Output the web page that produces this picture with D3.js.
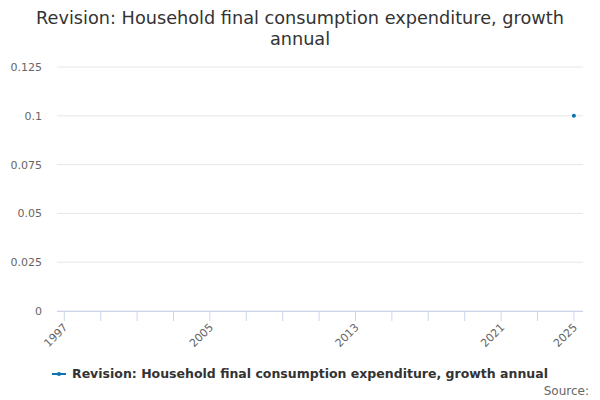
<!DOCTYPE html>
<html><head><meta charset="utf-8">
<script src="https://cdn.jsdelivr.net/npm/d3@7"></script>
<style>body{margin:0;font-family:"DejaVu Sans",sans-serif;}</style>
</head><body><div id="chart"></div>
<script>
const years = [2025];
const values = [0.1];
const yTicks = [0, 0.025, 0.05, 0.075, 0.1, 0.125];
const xLabels = [1997, 2005, 2013, 2021, 2025];
const xTicks = d3.range(1997, 2026, 2);
const title = ["Revision: Household final consumption expenditure, growth", "annual"];
const seriesName = "Revision: Household final consumption expenditure, growth annual";

const W = 600, H = 400;
const svg = d3.select("#chart").append("svg").attr("width", W).attr("height", H);
const x = d3.scaleLinear().domain([1996.6, 2025.5]).range([57, 583]);
const y = d3.scaleLinear().domain([0, 0.125]).range([311, 67]);

svg.selectAll("text.title").data(title).enter().append("text")
  .attr("x", W / 2).attr("y", (d, i) => 24 + i * 21)
  .attr("text-anchor", "middle").attr("font-size", 17.7).attr("fill", "#333").text(d => d);

svg.selectAll("line.grid").data(yTicks).enter().append("line")
  .attr("x1", 57).attr("x2", 583).attr("y1", d => y(d)).attr("y2", d => y(d))
  .attr("stroke", "#e6e6e6");
svg.selectAll("text.yl").data(yTicks).enter().append("text")
  .attr("x", 42).attr("y", d => y(d) + 4).attr("text-anchor", "end")
  .attr("font-size", 11).attr("fill", "#666").text(d => d);

svg.append("line").attr("x1", 57).attr("x2", 583).attr("y1", 311.5).attr("y2", 311.5).attr("stroke", "#ccd6eb");
svg.selectAll("line.xt").data(xTicks).enter().append("line")
  .attr("x1", d => x(d)).attr("x2", d => x(d)).attr("y1", 311).attr("y2", 321)
  .attr("stroke", "#ccd6eb");
svg.selectAll("text.xl").data(xLabels).enter().append("text")
  .attr("transform", d => `translate(${x(d) + 4},${328}) rotate(-45)`)
  .attr("text-anchor", "end").attr("font-size", 11).attr("fill", "#666").text(d => d);

svg.selectAll("circle.pt").data(years).enter().append("circle")
  .attr("cx", d => x(d)).attr("cy", (d, i) => y(values[i])).attr("r", 2).attr("fill", "#0a72b5");

const lg = svg.append("g");
lg.append("line").attr("x1", 52).attr("x2", 66).attr("y1", 374).attr("y2", 374).attr("stroke", "#0a72b5").attr("stroke-width", 2);
lg.append("circle").attr("cx", 59).attr("cy", 374).attr("r", 2).attr("fill", "#0a72b5");
lg.append("text").attr("x", 72).attr("y", 378).attr("font-size", 12.6).attr("font-weight", "bold").attr("fill", "#333")
  .attr("textLength", 476).attr("lengthAdjust", "spacingAndGlyphs").text(seriesName);
svg.append("text").attr("x", 589).attr("y", 395).attr("text-anchor", "end").attr("font-size", 12).attr("fill", "#666").text("Source:");
</script></body></html>
